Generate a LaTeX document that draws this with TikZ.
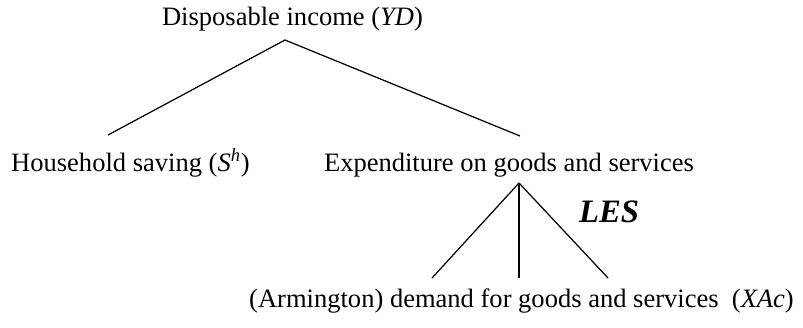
\documentclass[tikz,border=0pt]{standalone}
\usepackage{fontspec}
\setmainfont{Liberation Serif}
\usepackage{tikz}
\usetikzlibrary{positioning}

\begin{document}
\begin{tikzpicture}[font=\fontsize{15.1}{18}\selectfont, line width=0.7pt,
    lbl/.style={anchor=base, inner sep=0pt}]
  \useasboundingbox (0,0) rectangle (16.06,6.54);
  % top level
  \node[lbl] (yd) at (5.85, 6.04) {Disposable income (\textit{YD})};
  \coordinate (apexA) at (5.70, 5.74);
  \coordinate (endS) at (2.16, 3.84);
  \coordinate (endE) at (10.40, 3.82);
  \draw (endS) -- (apexA) -- (endE);

  % second level
  \node[lbl] (saving) at (2.61, 3.12) {Household saving (\textit{S}\textsuperscript{\textit{h}})};
  \node[lbl] (expend) at (10.18, 3.12) {Expenditure on goods and services};

  % LES nest
  \coordinate (apexB) at (10.38, 2.88);
  \foreach \x/\n in {8.64/l, 10.38/m, 12.16/r} {
    \coordinate (end\n) at (\x, 0.98);
    \draw (apexB) -- (end\n);
  }
  \node[lbl, font=\fontsize{18.6}{22}\selectfont\bfseries\itshape] (les) at (12.18, 2.10) {LES};

  % bottom level
  \node[lbl] (demand) at (10.43, 0.40) {(Armington) demand for goods and services\ \ (\textit{XAc})};
\end{tikzpicture}
\end{document}
